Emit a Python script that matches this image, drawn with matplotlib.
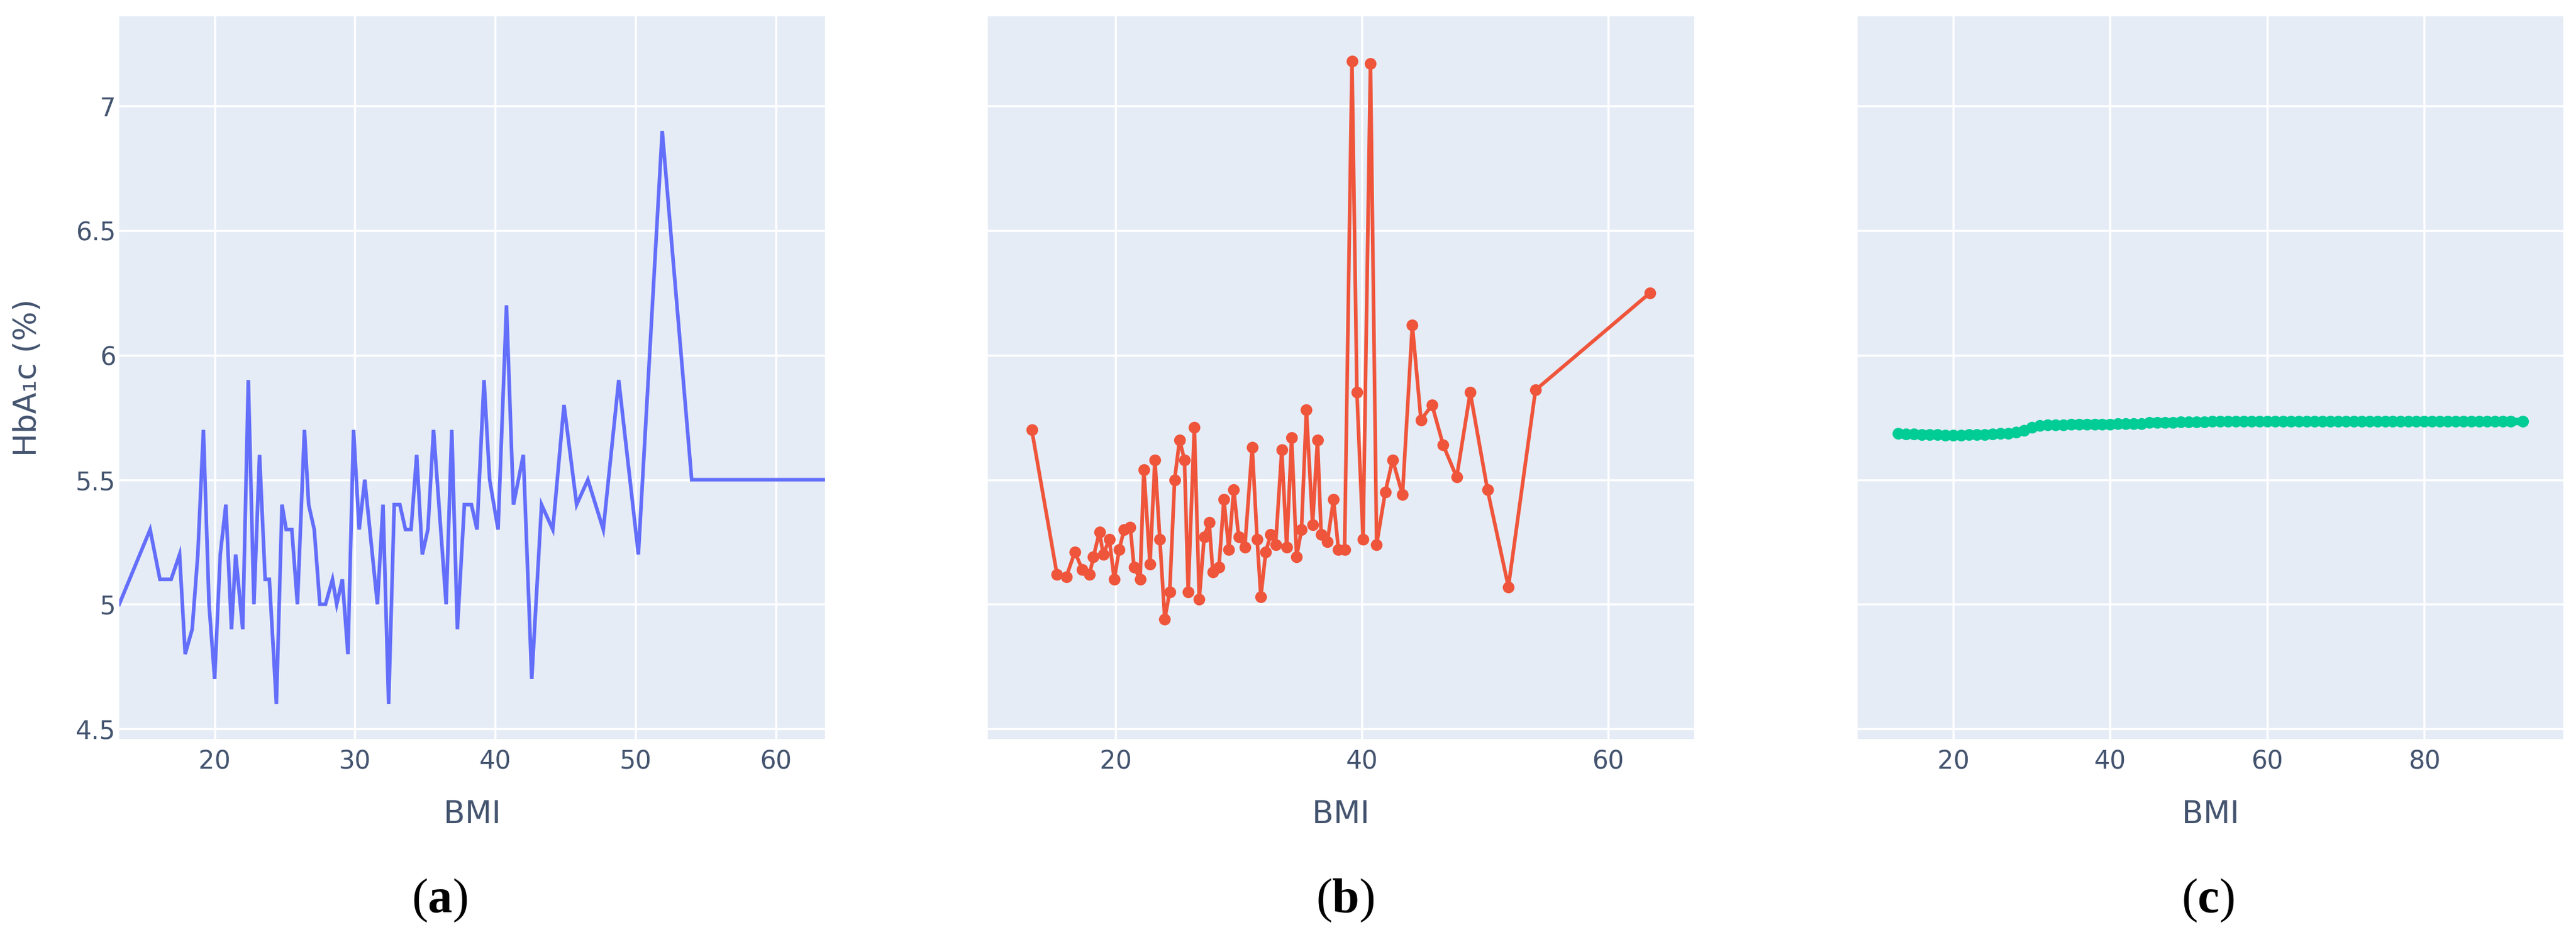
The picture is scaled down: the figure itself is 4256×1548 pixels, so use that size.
import matplotlib
matplotlib.use("Agg")
import matplotlib.pyplot as plt

# ---- data ----
bmi_a = [13.2, 15.4, 16.1, 16.9, 17.5, 17.9, 18.4, 18.8, 19.2, 19.6,
         20.0, 20.4, 20.8, 21.2, 21.5, 22.0, 22.4, 22.8, 23.2, 23.6,
         23.9, 24.4, 24.8, 25.1, 25.5, 25.9, 26.4, 26.7, 27.1, 27.5,
         27.9, 28.4, 28.7, 29.1, 29.5, 29.9, 30.3, 30.7, 31.6, 32.0,
         32.4, 32.8, 33.2, 33.6, 34.0, 34.4, 34.8, 35.2, 35.6, 36.5,
         36.9, 37.3, 37.8, 38.3, 38.7, 39.2, 39.6, 40.2, 40.8, 41.3,
         42.0, 42.6, 43.3, 44.1, 44.9, 45.8, 46.6, 47.7, 48.8, 50.2,
         51.9, 54.0, 63.5]
hba1c_a = [5.0, 5.3, 5.1, 5.1, 5.2, 4.8, 4.9, 5.2, 5.7, 5.0,
           4.7, 5.2, 5.4, 4.9, 5.2, 4.9, 5.9, 5.0, 5.6, 5.1,
           5.1, 4.6, 5.4, 5.3, 5.3, 5.0, 5.7, 5.4, 5.3, 5.0,
           5.0, 5.1, 5.0, 5.1, 4.8, 5.7, 5.3, 5.5, 5.0, 5.4,
           4.6, 5.4, 5.4, 5.3, 5.3, 5.6, 5.2, 5.3, 5.7, 5.0,
           5.7, 4.9, 5.4, 5.4, 5.3, 5.9, 5.5, 5.3, 6.2, 5.4,
           5.6, 4.7, 5.4, 5.3, 5.8, 5.4, 5.5, 5.3, 5.9, 5.2,
           6.9, 5.5, 5.5]

bmi_b = [13.2, 15.25, 16.0, 16.7, 17.3, 17.9, 18.2, 18.7, 19.0, 19.5,
         19.9, 20.3, 20.7, 21.2, 21.5, 22.0, 22.3, 22.8, 23.2, 23.6,
         24.0, 24.4, 24.8, 25.2, 25.6, 25.9, 26.4, 26.8, 27.2, 27.6,
         27.9, 28.4, 28.8, 29.2, 29.6, 30.0, 30.5, 31.1, 31.5, 31.8,
         32.2, 32.6, 33.0, 33.5, 33.9, 34.3, 34.7, 35.1, 35.5, 36.0,
         36.4, 36.7, 37.2, 37.7, 38.1, 38.6, 39.2, 39.6, 40.1, 40.7,
         41.2, 41.9, 42.5, 43.3, 44.1, 44.8, 45.7, 46.6, 47.7, 48.8,
         50.2, 51.9, 54.1, 63.4]
hba1c_b = [5.70, 5.12, 5.11, 5.21, 5.14, 5.12, 5.19, 5.29, 5.20, 5.26,
           5.10, 5.22, 5.30, 5.31, 5.15, 5.10, 5.54, 5.16, 5.58, 5.26,
           4.94, 5.05, 5.50, 5.66, 5.58, 5.05, 5.71, 5.02, 5.27, 5.33,
           5.13, 5.15, 5.42, 5.22, 5.46, 5.27, 5.23, 5.63, 5.26, 5.03,
           5.21, 5.28, 5.24, 5.62, 5.23, 5.67, 5.19, 5.30, 5.78, 5.32,
           5.66, 5.28, 5.25, 5.42, 5.22, 5.22, 7.18, 5.85, 5.26, 7.17,
           5.24, 5.45, 5.58, 5.44, 6.12, 5.74, 5.80, 5.64, 5.51, 5.85,
           5.46, 5.07, 5.86, 6.25]

bmi_c = [13, 14, 15, 16, 17, 18, 19, 20, 21, 22,
         23, 24, 25, 26, 27, 28, 29, 30, 31, 32,
         33, 34, 35, 36, 37, 38, 39, 40, 41, 42,
         43, 44, 45, 46, 47, 48, 49, 50, 51, 52,
         53, 54, 55, 56, 57, 58, 59, 60, 61, 62,
         63, 64, 65, 66, 67, 68, 69, 70, 71, 72,
         73, 74, 75, 76, 77, 78, 79, 80, 81, 82,
         83, 84, 85, 86, 87, 88, 89, 90, 91, 92.5]
hba1c_c = [5.685, 5.684, 5.683, 5.682, 5.681, 5.680, 5.679, 5.679, 5.679, 5.680,
           5.681, 5.682, 5.683, 5.685, 5.687, 5.690, 5.697, 5.710, 5.718, 5.721,
           5.721, 5.721, 5.722, 5.722, 5.722, 5.723, 5.723, 5.723, 5.724, 5.724,
           5.724, 5.725, 5.729, 5.730, 5.730, 5.730, 5.731, 5.731, 5.731, 5.732,
           5.734, 5.734, 5.734, 5.734, 5.734, 5.734, 5.734, 5.734, 5.734, 5.734,
           5.734, 5.734, 5.734, 5.734, 5.734, 5.734, 5.734, 5.734, 5.734, 5.734,
           5.734, 5.734, 5.734, 5.734, 5.734, 5.734, 5.734, 5.734, 5.734, 5.734,
           5.734, 5.734, 5.734, 5.734, 5.734, 5.734, 5.734, 5.734, 5.734, 5.734]

y_ticks = [4.5, 5, 5.5, 6, 6.5, 7]
y_tick_labels = ["4.5", "5", "5.5", "6", "6.5", "7"]
x_ticks_a = [20, 30, 40, 50, 60]
x_ticks_b = [20, 40, 60]
x_ticks_c = [20, 40, 60, 80]
captions = ["a", "b", "c"]

# ---- style ----
W, H = 4256, 1548
BG = "#E5ECF6"
TXT = "#44546f"
plt.rcParams["font.family"] = ["DejaVu Sans"]
plt.rcParams["mathtext.fontset"] = "custom"
plt.rcParams["mathtext.rm"] = "Liberation Serif"
plt.rcParams["mathtext.bf"] = "Liberation Serif:bold"

fig = plt.figure(figsize=(W / 100, H / 100), dpi=100)

# axes boxes in pixels: left, right
boxes = [(197, 1363), (1632, 2799), (3069, 4235)]
top, bottom = 27, 1221


def make_axes(left, right):
    ax = fig.add_axes([left / W, (H - bottom) / H, (right - left) / W, (bottom - top) / H])
    ax.set_facecolor(BG)
    for s in ax.spines.values():
        s.set_visible(False)
    ax.grid(True, color="white", linewidth=2.5)
    ax.set_axisbelow(True)
    ax.tick_params(length=0, labelsize=30, labelcolor=TXT, pad=12)
    ax.set_ylim(4.459, 7.36)
    ax.set_yticks(y_ticks)
    return ax


ax_a = make_axes(*boxes[0])
ax_a.plot(bmi_a, hba1c_a, color="#636EFA", linewidth=4.3, solid_joinstyle="miter")
ax_a.set_xlim(13.2, 63.5)
ax_a.set_xticks(x_ticks_a)
ax_a.set_yticklabels(y_tick_labels)
ax_a.tick_params(axis="y", pad=4)

ax_b = make_axes(*boxes[1])
ax_b.plot(bmi_b, hba1c_b, color="#EF553B", linewidth=4.3, marker="o",
          markersize=14, markeredgewidth=0)
ax_b.set_xlim(9.63, 66.98)
ax_b.set_xticks(x_ticks_b)
ax_b.set_yticklabels([])

ax_c = make_axes(*boxes[2])
ax_c.plot(bmi_c, hba1c_c, color="#00CC96", linewidth=9, marker="o",
          markersize=14, markeredgewidth=0)
ax_c.set_xlim(7.82, 97.7)
ax_c.set_xticks(x_ticks_c)
ax_c.set_yticklabels([])

# axis titles
for left, right in boxes:
    fig.text((left + right) / 2 / W, 1 - 1360 / H, "BMI", ha="center", va="baseline",
             fontsize=37, color=TXT)

fig.text(46 / W, 1 - 624 / H, "HbA\u2081c (%)", rotation=90, ha="center", va="center",
         fontsize=37, color=TXT)

# panel captions
cap_x = [726, 2222, 3648]
for cx, c in zip(cap_x, captions):
    fig.text(cx / W, 1 - 1507 / H, "($\\mathbf{%s}$)" % c, ha="center", va="baseline",
             fontsize=58, family="Liberation Serif", color="black")

fig.savefig("out.png", dpi=100, facecolor="white")
